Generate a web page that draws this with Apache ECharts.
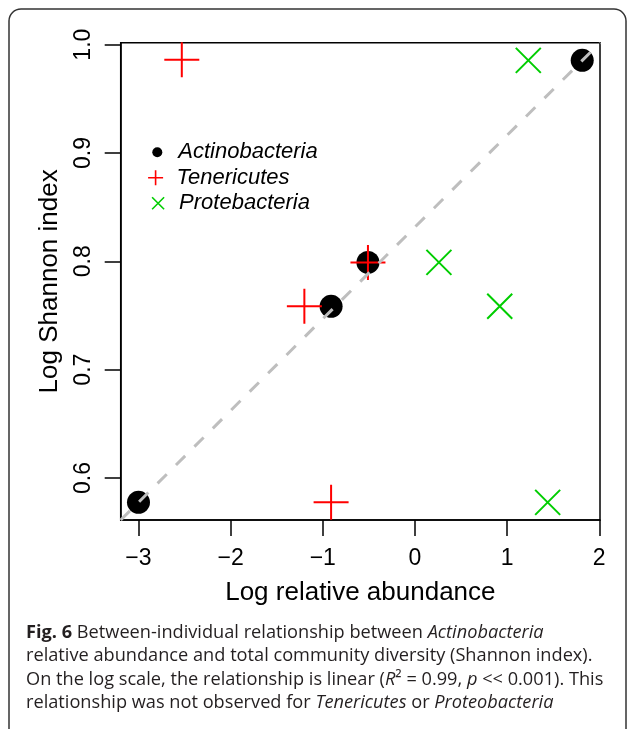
<!DOCTYPE html>
<html>
<head>
<meta charset="utf-8">
<script src="https://cdn.jsdelivr.net/npm/echarts@6/dist/echarts.min.js"></script>
<style>
html,body{margin:0;padding:0;background:#fff;}
#chart{width:627px;height:729px;}
</style>
</head>
<body>
<div id="chart"></div>
<script>
// ---- data ----
var actinoX = [-3.0, -0.91, -0.51, 1.815];
var actinoY = [0.5775, 0.7585, 0.799, 0.9855];
var teneX = [-2.53, -1.20, -0.51, -0.91];
var teneY = [0.986, 0.7585, 0.799, 0.5775];
var proteoX = [1.23, 0.26, 0.92, 1.44];
var proteoY = [0.9855, 0.799, 0.7585, 0.5775];
var fitSlope = 0.0847;
var fitIntercept = 0.8316;
var xTicks = [-3, -2, -1, 0, 1, 2];
var yTicks = [0.6, 0.7, 0.8, 0.9, 1.0];
var xRange = [-3.193, 2.008];
var yRange = [0.5612, 1.0018];
var seriesNames = ['Actinobacteria', 'Tenericutes', 'Protebacteria'];
var xTitle = 'Log relative abundance';
var yTitle = 'Log Shannon index';
var captionLines = [
  '{b|Fig. 6} Between-individual relationship between {i|Actinobacteria}',
  'relative abundance and total community diversity (Shannon index).',
  'On the log scale, the relationship is linear ({i|R}\u00B2 = 0.99, {i|p} << 0.001). This',
  'relationship was not observed for {i|Tenericutes} or {i|Proteobacteria}'
];

function zip(xs, ys) { return xs.map(function (x, i) { return [x, ys[i]]; }); }
var fitLine = [
  [xRange[0], fitIntercept + fitSlope * xRange[0]],
  [xRange[1], fitIntercept + fitSlope * xRange[1]]
];

var PLUS = 'path://M0,-10L0,10M-10,0L10,0';
var CROSS = 'path://M-10,-10L10,10M-10,10L10,-10';
var RED = '#FF0000';
var GREEN = '#00CD00';
var AX_FONT = '"Liberation Sans", Arial, Helvetica, sans-serif';
var CAP_FONT = '"Open Sans", "Noto Sans", sans-serif';

var chart = echarts.init(document.getElementById('chart'), null, {renderer: 'canvas'});

function legendFor(name, h, left, top, itemStyle) {
  var d = {name: name};
  if (itemStyle) d.itemStyle = itemStyle;
  return {
    data: [d], orient: 'vertical', left: left, top: top, padding: 0,
    itemWidth: 32, itemHeight: h, selectedMode: false,
    textStyle: {fontFamily: AX_FONT, fontSize: 22, fontStyle: 'italic', color: '#000'}
  };
}

var capGraphics = captionLines.map(function (t, i) {
  return {
    type: 'text', x: 26, y: 632.7 + i * 23.5,
    style: {
      text: t, fontFamily: CAP_FONT, fontSize: 18.2, fill: '#231F20', verticalAlign: 'middle',
      rich: {
        b: {fontFamily: CAP_FONT, fontSize: 18.2, fontWeight: 'bold', fill: '#231F20'},
        i: {fontFamily: CAP_FONT, fontSize: 18.2, fontStyle: 'italic', fill: '#231F20'}
      }
    }
  };
});

var option = {
  animation: false,
  backgroundColor: '#fff',
  grid: {left: 120.7, top: 42.7, width: 479.3, height: 477.3, show: true,
         borderColor: '#000', borderWidth: 1.5, backgroundColor: 'transparent'},
  xAxis: {
    type: 'value', min: xRange[0], max: xRange[1],
    name: xTitle, nameLocation: 'middle', nameGap: 60,
    nameTextStyle: {fontFamily: AX_FONT, fontSize: 26, color: '#000'},
    axisLine: {show: true, onZero: false, lineStyle: {color: '#000', width: 1.5}},
    axisTick: {show: true, length: 16, customValues: xTicks, lineStyle: {color: '#000', width: 1.5}},
    axisLabel: {customValues: xTicks, margin: 27, fontFamily: AX_FONT, fontSize: 23, color: '#000',
      formatter: function (v) { return v < 0 ? '\u2212' + Math.abs(v) : String(v); }},
    splitLine: {show: false}
  },
  yAxis: {
    type: 'value', min: yRange[0], max: yRange[1],
    name: yTitle, nameLocation: 'middle', nameGap: 58,
    nameTextStyle: {fontFamily: AX_FONT, fontSize: 26, color: '#000'},
    axisLine: {show: true, onZero: false, lineStyle: {color: '#000', width: 1.5}},
    axisTick: {show: true, length: 16, customValues: yTicks, lineStyle: {color: '#000', width: 1.5}},
    axisLabel: {customValues: yTicks, margin: 25.5, rotate: 90, fontFamily: AX_FONT, fontSize: 23, color: '#000',
      formatter: function (v) { return v.toFixed(1); }},
    splitLine: {show: false}
  },
  legend: [
    legendFor(seriesNames[0], 10, 152.3, 141.3),
    legendFor(seriesNames[1], 15, 147.3, 166.7, {color: 'transparent', borderColor: RED, borderWidth: 1.6}),
    legendFor(seriesNames[2], 12, 151.3, 192.3, {color: 'transparent', borderColor: GREEN, borderWidth: 1.6})
  ],
  graphic: [
    {type: 'rect', shape: {x: 9, y: 9, width: 617, height: 800, r: [12, 12, 0, 0]},
     style: {fill: 'none', stroke: '#333', lineWidth: 1.5}, silent: true}
  ].concat(capGraphics),
  series: [
    {name: seriesNames[0], type: 'scatter', data: zip(actinoX, actinoY), symbol: 'circle', symbolSize: 23,
     itemStyle: {color: '#000', opacity: 1}, emphasis: {disabled: true}},
    {name: seriesNames[1], type: 'scatter', data: zip(teneX, teneY), symbol: PLUS, symbolSize: 35,
     itemStyle: {color: 'transparent', borderColor: RED, borderWidth: 2, opacity: 1}, emphasis: {disabled: true}},
    {name: seriesNames[2], type: 'scatter', data: zip(proteoX, proteoY), symbol: CROSS, symbolSize: 25,
     itemStyle: {color: 'transparent', borderColor: GREEN, borderWidth: 2, opacity: 1}, emphasis: {disabled: true}},
    {name: 'fit', type: 'line', data: fitLine, symbol: 'none', clip: true,
     lineStyle: {color: '#BEBEBE', width: 3, type: [13, 13]}, emphasis: {disabled: true}, silent: true}
  ]
};
chart.setOption(option);
</script>
</body>
</html>
